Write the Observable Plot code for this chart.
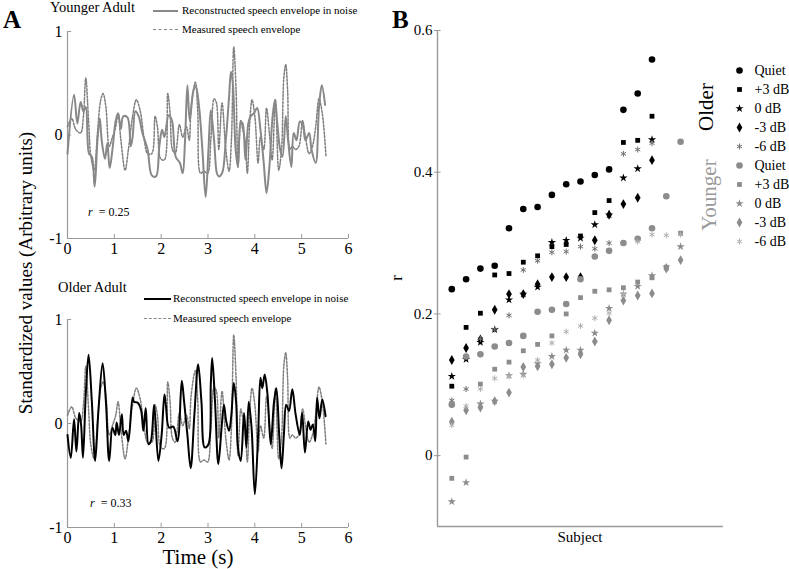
<!DOCTYPE html>
<html><head><meta charset="utf-8">
<script src="https://cdn.jsdelivr.net/npm/d3@7"></script>
<script src="https://cdn.jsdelivr.net/npm/@observablehq/plot@0.6"></script>
<style>
body{margin:0;background:#fff;}
#root{position:relative;width:789px;height:569px;font-family:"Liberation Serif","Times New Roman",serif;overflow:hidden;background:#fff}
#root svg{position:absolute;font-family:"Liberation Serif","Times New Roman",serif;overflow:visible}
.abs{position:absolute;white-space:nowrap;color:#000;line-height:1}
.lg{position:absolute;width:25px;height:0}
</style></head><body><div id="root"></div>
<script>
// ---------- Panel A data (time in s, standardized value) ----------
const measuredT = [0,0.09,0.18,0.28,0.34,0.39,0.45,0.50,0.57,0.64,0.71,0.76,0.82,0.89,0.96,1.03,1.08,1.14,1.23,1.30,1.39,1.47,1.55,1.64,1.71,1.80,1.87,1.92,1.99,2.07,2.14,2.19,2.24,2.30,2.39,2.46,2.54,2.60,2.64,2.73,2.78,2.84,2.91,2.99,3.06,3.13,3.18,3.23,3.30,3.38,3.45,3.50,3.55,3.60,3.64,3.70,3.73,3.79,3.84,3.89,3.94,4.00,4.07,4.12,4.19,4.25,4.31,4.37,4.44,4.51,4.57,4.62,4.66,4.70,4.75,4.80,4.87,4.94,5.02,5.08,5.16,5.23,5.30,5.37,5.44,5.52];
const measuredV = [0.08,0.16,0.05,0.02,0.18,0.55,0.14,-0.21,-0.34,0.02,0.34,0.40,0.27,-0.11,-0.02,0.08,0.21,-0.05,-0.34,-0.14,0.18,0.34,0.24,-0.05,-0.18,-0.18,0.18,0.08,-0.23,-0.24,0.40,0.21,-0.14,-0.18,0.10,-0.02,0.08,-0.05,0.27,0.51,0.24,-0.37,-0.35,-0.37,-0.05,0.35,0.31,-0.14,0.31,-0.14,-0.35,-0.05,0.85,0.43,-0.31,0.14,0.08,-0.05,-0.37,0.11,0.34,0.18,-0.27,-0.02,-0.14,0.26,0.02,-0.24,0.34,-0.34,-0.14,0.56,0.68,0.43,-0.14,-0.11,-0.14,-0.11,0.14,-0.02,-0.18,-0.11,0.08,0.35,0.21,-0.21];
const youngRecT = [0,0.14,0.21,0.28,0.34,0.39,0.46,0.52,0.58,0.64,0.69,0.73,0.80,0.85,0.90,0.96,1.03,1.08,1.14,1.19,1.28,1.35,1.39,1.45,1.52,1.60,1.71,1.80,1.89,1.96,2.02,2.07,2.16,2.23,2.31,2.40,2.46,2.51,2.56,2.61,2.69,2.74,2.81,2.88,2.95,3.01,3.06,3.13,3.19,3.23,3.30,3.38,3.45,3.49,3.53,3.59,3.64,3.70,3.74,3.80,3.86,3.91,3.98,4.05,4.12,4.19,4.25,4.31,4.38,4.43,4.48,4.54,4.59,4.66,4.71,4.78,4.83,4.89,4.96,5.03,5.08,5.16,5.21,5.30,5.37,5.43,5.50];
const youngRecV = [-0.18,0.39,0.11,0.32,0.23,0.27,-0.18,-0.21,-0.50,-0.05,0.16,-0.05,-0.23,-0.08,-0.32,-0.14,0.14,0.21,0.06,0.18,0.17,-0.11,-0.02,0.23,0.18,0.02,-0.14,-0.39,-0.40,-0.11,0.05,-0.02,0.19,0.14,-0.21,-0.27,-0.37,-0.05,0.48,0.14,0.43,0.47,0.27,-0.14,-0.60,-0.14,0.24,-0.05,-0.37,-0.40,-0.37,-0.05,0.37,0.61,0.50,-0.14,-0.31,0.13,0.11,-0.24,0.11,0.18,0.21,0.26,0.05,-0.27,-0.56,-0.31,0.18,0.34,0.11,-0.14,-0.21,0.18,-0.05,-0.31,0.02,-0.05,0.13,0.08,-0.05,0.02,-0.14,-0.27,0.27,0.48,0.29];
const oldRecT = [0,0.07,0.14,0.19,0.25,0.29,0.33,0.39,0.45,0.52,0.59,0.66,0.75,0.82,0.89,0.96,1.02,1.05,1.10,1.16,1.20,1.25,1.30,1.39,1.42,1.50,1.57,1.62,1.67,1.73,1.78,1.85,1.94,2.01,2.07,2.10,2.17,2.26,2.35,2.44,2.49,2.56,2.63,2.71,2.79,2.86,2.93,3.01,3.06,3.09,3.15,3.22,3.29,3.34,3.39,3.45,3.50,3.55,3.60,3.64,3.70,3.77,3.82,3.87,3.93,4.00,4.07,4.12,4.16,4.21,4.27,4.34,4.41,4.46,4.52,4.57,4.62,4.67,4.73,4.80,4.87,4.96,5.01,5.07,5.14,5.19,5.24,5.29,5.33,5.38,5.44,5.51];
const oldRecV = [-0.11,-0.33,0.04,-0.27,0.10,-0.01,-0.33,0.28,0.66,0.21,-0.36,0.12,0.58,0.21,-0.36,-0.04,-0.11,0.01,-0.11,0.09,-0.11,-0.07,-0.17,0.25,0.21,0.20,0.13,-0.07,0.15,-0.20,-0.17,0.18,-0.36,-0.11,0.28,0.18,-0.04,-0.03,-0.17,0.41,0.21,-0.11,-0.43,0.09,0.57,0.21,-0.23,-0.20,0.38,0.63,0.21,-0.39,-0.04,0.18,0.02,-0.07,0.09,0.39,0.21,-0.23,-0.36,0.10,-0.23,0.21,-0.04,-0.68,-0.11,0.44,0.34,0.47,0.28,-0.20,0.21,0.34,-0.11,-0.43,-0.11,0.18,0.12,0.33,0.09,-0.11,0.10,-0.28,0.02,-0.06,-0.01,-0.17,0.25,0.05,0.23,0.07];
const timeTicks = [0,1,2,3,4,5,6];
const valueTicks = [-1,0,1];

// ---------- Panel B data (r per subject) ----------
const olderSubjects = [1,2,3,4,5,6,7,8,9,10,11,12,13,14,15];
const youngerSubjects = [1,2,3,4,5,6,7,8,9,10,11,12,13,14,15,16,17];
const olderQuiet = [0.235,0.249,0.264,0.268,0.321,0.348,0.351,0.368,0.383,0.387,0.396,0.404,0.488,0.511,0.559];
const olderP3 = [0.098,0.181,0.201,0.255,0.257,0.273,0.282,0.295,0.298,0.310,0.343,0.360,0.442,0.445,0.479];
const older0 = [0.112,0.136,0.160,0.178,0.220,0.228,0.238,0.301,0.304,0.307,0.326,0.340,0.392,0.405,0.446];
const olderM3 = [0.135,0.152,0.164,0.206,0.228,0.228,0.242,0.252,0.252,0.252,0.304,0.340,0.355,0.364,0.417];
const olderM6 = [0.078,0.094,0.165,0.178,0.198,0.262,0.275,0.287,0.288,0.295,0.292,0.300,0.426,0.432,0.441];
const youngerQuiet = [0.072,0.140,0.143,0.154,0.159,0.169,0.203,0.206,0.214,0.249,0.281,0.289,0.300,0.306,0.321,0.366,0.443];
const youngerP3 = [-0.032,-0.002,0.101,0.122,0.132,0.148,0.157,0.169,0.200,0.223,0.232,0.234,0.237,0.245,0.251,0.266,0.314];
const younger0 = [-0.065,-0.038,0.073,0.077,0.113,0.115,0.130,0.140,0.149,0.149,0.173,0.208,0.228,0.239,0.254,0.266,0.295];
const youngerM3 = [0.048,0.064,0.068,0.077,0.089,0.125,0.126,0.129,0.138,0.143,0.161,0.191,0.219,0.226,0.229,0.264,0.276];
const youngerM6 = [0.043,0.070,0.094,0.109,0.112,0.113,0.135,0.159,0.175,0.183,0.194,0.201,0.228,0.302,0.312,0.311,0.312];
const conditionLabels = ["Quiet","+3 dB","0 dB","-3 dB","-6 dB"];
const rTicks = [0,0.2,0.4,0.6];

// ---------- helpers ----------
const root = document.getElementById("root");
function put(el, left, top){ el.style.left = left+"px"; el.style.top = top+"px"; root.appendChild(el); return el; }
function label(html, left, top, css){ const d=document.createElement("div"); d.className="abs"; d.innerHTML=html; if(css) d.style.cssText += css; return put(d,left,top); }
const zip = (T,V) => T.map((t,i)=>({t, v:V[i]}));
const AXIS = "#9a9a9a";

function panelA(recT, recV, recColor, top, height, mTop, mBottom){
  const svg = Plot.plot({
    width: 360, height, marginLeft: 67, marginRight: 12, marginTop: mTop, marginBottom: mBottom,
    style: {fontFamily: "Liberation Serif, serif", fontSize: "16px", color: "#000", background: "transparent"},
    x: {domain: [0,6], label: null}, y: {domain: [-1,1], label: null},
    marks: [
      Plot.ruleX([0], {stroke: AXIS, strokeWidth: 1.2}),
      Plot.ruleY([-1], {stroke: AXIS, strokeWidth: 1.2}),
      Plot.ruleX(timeTicks.slice(1), {x: d=>d, y1: -1, y2: -0.96, stroke: AXIS}),
      Plot.ruleY(valueTicks, {y: d=>d, x1: 0, x2: 0.09, stroke: AXIS}),
      Plot.axisX({ticks: timeTicks, tickSize: 0, tickPadding: 4, fontSize: 16, label: null, tickFormat: d=>String(d)}),
      Plot.axisY({ticks: valueTicks, tickSize: 0, tickPadding: 5, fontSize: 16, label: null, tickFormat: d=>String(d)}),
      Plot.line(zip(measuredT, measuredV), {x: "t", y: "v", curve: "catmull-rom", stroke: "#7f7f7f", strokeWidth: 1.5, strokeDasharray: "2,1.6"}),
      Plot.line(zip(recT, recV), {x: "t", y: "v", curve: "catmull-rom", stroke: recColor, strokeWidth: 2})
    ]
  });
  svg.style.left = "0px"; svg.style.top = top+"px";
  root.appendChild(svg);
}

panelA(youngRecT, youngRecV, "#888888", 0, 262, 31, 24);
panelA(oldRecT, oldRecV, "#000000", 290, 262, 29, 25);

// Panel A texts
label("A", 3, 7, "font-weight:bold;font-size:25px;");
label("Younger Adult", 50, 0, "font-size:14.5px;");
label("Older Adult", 58, 280, "font-size:14.5px;");
label("Reconstructed speech envelope in noise", 182, 5, "font-size:11px;");
label("Measured speech envelope", 182, 24, "font-size:11px;");
label("Reconstructed speech envelope in noise", 173, 293, "font-size:11px;");
label("Measured speech envelope", 173, 313, "font-size:11px;");
const l1 = document.createElement("div"); l1.className="lg"; l1.style.borderTop="2px solid #888"; put(l1,153,10);
const l2 = document.createElement("div"); l2.className="lg"; l2.style.borderTop="1.5px dashed #888"; put(l2,153,29);
const l3 = document.createElement("div"); l3.className="lg"; l3.style.borderTop="2.5px solid #000"; l3.style.width="27px"; put(l3,144,298);
const l4 = document.createElement("div"); l4.className="lg"; l4.style.borderTop="1.5px dashed #888"; l4.style.width="27px"; put(l4,144,318);
label("<i>r</i>&nbsp; = 0.25", 88, 206, "font-size:12px;");
label("<i>r</i>&nbsp; = 0.33", 90, 497, "font-size:12px;");
label("Time (s)", 198, 557, "font-size:21px;transform:translate(-50%,-50%);");
label("Standardized values (Arbitrary units)", 25, 273, "font-size:19px;transform:translate(-50%,-50%) rotate(-90deg);");

// ---------- Panel B ----------
const series = [
  {subj: olderSubjects, vals: olderQuiet, symbol: "circle", r: 3.3, fill: "#000"},
  {subj: olderSubjects, vals: olderP3, symbol: "square", r: 2.7, fill: "#000"},
  {subj: olderSubjects, vals: older0, symbol: "star", r: 2.6, fill: "#000"},
  {subj: olderSubjects, vals: olderM3, symbol: "diamond", r: 3.0, fill: "#000"},
  {subj: olderSubjects, vals: olderM6, symbol: "asterisk", r: 2.8, stroke: "#707070"},
  {subj: youngerSubjects, vals: youngerQuiet, symbol: "circle", r: 3.3, fill: "#8c8c8c"},
  {subj: youngerSubjects, vals: youngerP3, symbol: "square", r: 2.7, fill: "#8c8c8c"},
  {subj: youngerSubjects, vals: younger0, symbol: "star", r: 2.6, fill: "#8c8c8c"},
  {subj: youngerSubjects, vals: youngerM3, symbol: "diamond", r: 3.0, fill: "#8c8c8c"},
  {subj: youngerSubjects, vals: youngerM6, symbol: "asterisk", r: 2.8, stroke: "#b0b0b0"}
];
const dotMarks = series.map(s => Plot.dot(s.subj.map((x,i)=>({x, r: s.vals[i]})), {
  x: "x", y: "r", symbol: s.symbol, r: s.r,
  fill: s.fill || "none", stroke: s.stroke || "none", strokeWidth: s.stroke ? 1 : 0
}));
const svgB = Plot.plot({
  width: 409, height: 569, marginLeft: 57, marginRight: 66, marginTop: 30, marginBottom: 43,
  style: {fontFamily: "Liberation Serif, serif", color: "#000", background: "transparent"},
  x: {domain: [0,20], axis: null, label: null},
  y: {domain: [-0.1,0.6], label: null},
  marks: [
    Plot.ruleX([0], {stroke: AXIS, strokeWidth: 1.4}),
    Plot.ruleY([-0.1], {stroke: AXIS, strokeWidth: 1.4}),
    Plot.ruleY(rTicks, {y: d=>d, x1: 0, x2: 0.25, stroke: AXIS}),
    Plot.axisY({ticks: rTicks, tickSize: 3, stroke: AXIS, tickPadding: 2, fontSize: 15, label: null, tickFormat: d => d===0 ? "0" : d3.format(".1f")(d)}),
    ...dotMarks
  ]
});
svgB.style.left = "380px"; svgB.style.top = "0px";
root.appendChild(svgB);

// Panel B legend (a small Plot with a point scale over the legend rows)
const legendRows = series.map((s,i)=>({i, label: conditionLabels[i%5], ...s}));
const legend = Plot.plot({
  width: 61, height: 200, margin: 0,
  style: {fontFamily: "Liberation Serif, serif", background: "transparent"},
  x: {axis: null, domain: [0,1]},
  y: {type: "point", domain: d3.range(10), range: [10, 181], padding: 0, axis: null},
  marks: [
    ...legendRows.map(s => Plot.dot([s], {x: 0, y: "i", dx: 11, symbol: s.symbol, r: s.r, fill: s.fill || "none", stroke: s.stroke || "none", strokeWidth: s.stroke ? 1 : 0})),
    Plot.text(legendRows, {x: 0, y: "i", dx: 26, text: "label", textAnchor: "start", fontSize: 14, fill: "#000"})
  ]
});
legend.style.left = "728px"; legend.style.top = "60px";
root.appendChild(legend);

label("B", 392, 7, "font-weight:bold;font-size:25px;");
label("Older", 706, 107, "font-size:21px;transform:translate(-50%,-50%) rotate(-90deg);");
label("Younger", 709, 195, "font-size:21px;color:#999;transform:translate(-50%,-50%) rotate(-90deg);");
label("r", 396, 278, "font-size:17px;transform:translate(-50%,-50%) rotate(-90deg);");
label("Subject", 580, 537, "font-size:15px;transform:translate(-50%,-50%);");
</script></body></html>
